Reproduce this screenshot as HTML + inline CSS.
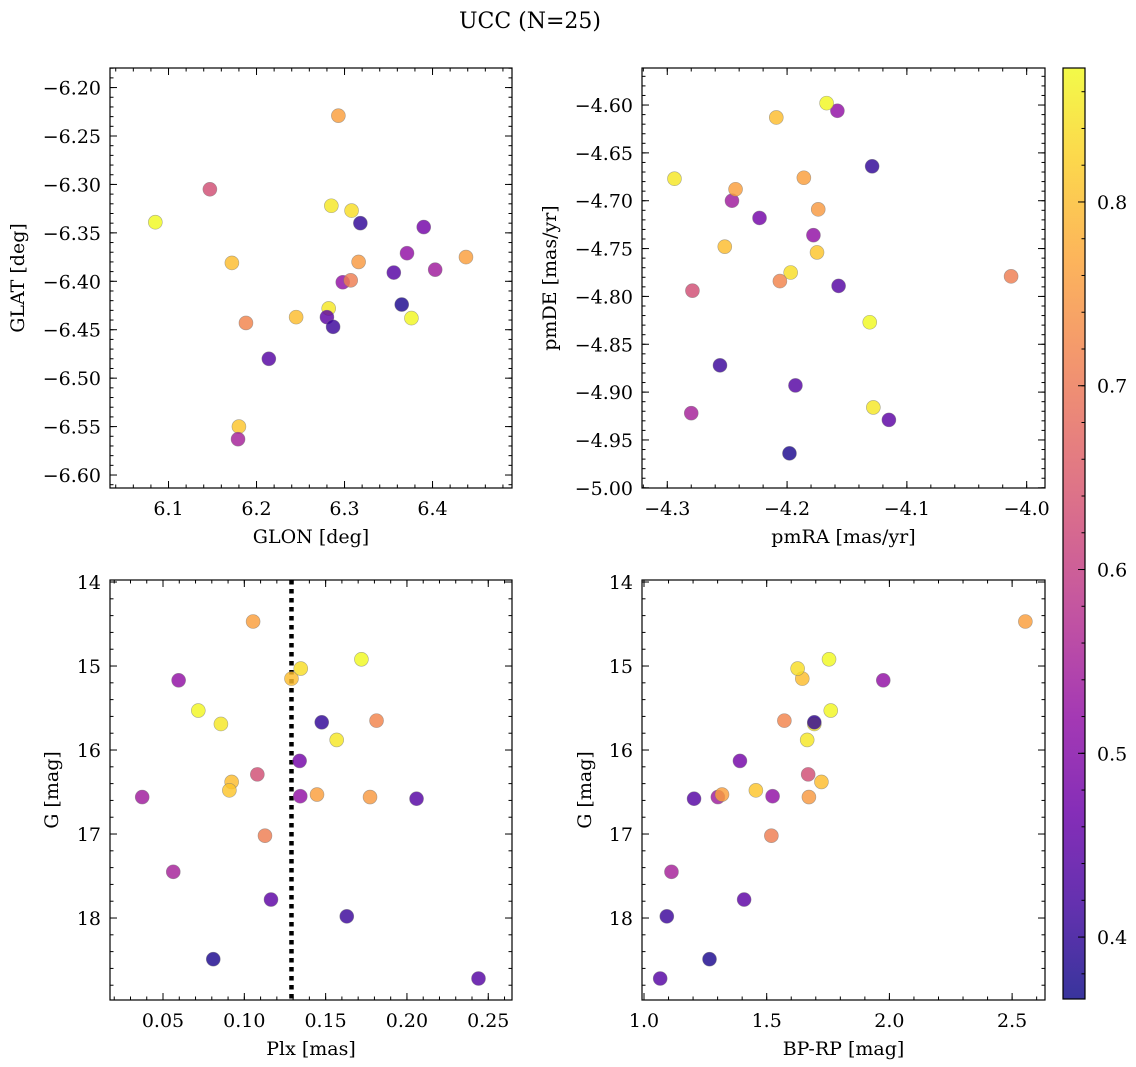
<!DOCTYPE html>
<html><head><meta charset="utf-8"><style>
html,body{margin:0;padding:0;background:#fff;}
svg{display:block;}
text{font-family:"DejaVu Serif","Liberation Serif",serif;fill:#000;}
</style></head><body>
<svg id="fig" width="1136" height="1067" viewBox="0 0 1136 1067" xmlns="http://www.w3.org/2000/svg">
<rect width="1136" height="1067" fill="#fff"/>
<text x="530" y="28" font-size="22" text-anchor="middle">UCC (N=25)</text>
</svg>
<script>
const prob = [0.76,0.52,0.87,0.85,0.80,0.84,0.88,0.40,0.72,0.85,0.48,0.63,0.80,0.81,0.54,0.52,0.76,0.75,0.44,0.71,0.55,0.45,0.41,0.38,0.44];
const glon = [6.293,6.371,6.376,6.285,6.172,6.308,6.085,6.318,6.188,6.282,6.390,6.147,6.245,6.180,6.403,6.298,6.438,6.316,6.356,6.307,6.179,6.280,6.287,6.365,6.214];
const glat = [-6.229,-6.371,-6.438,-6.322,-6.381,-6.327,-6.339,-6.340,-6.443,-6.428,-6.344,-6.305,-6.437,-6.550,-6.388,-6.401,-6.375,-6.380,-6.391,-6.399,-6.563,-6.437,-6.447,-6.424,-6.480];
const pmra = [-4.186,-4.158,-4.167,-4.294,-4.209,-4.197,-4.131,-4.129,-4.206,-4.128,-4.223,-4.279,-4.252,-4.175,-4.246,-4.178,-4.243,-4.174,-4.157,-4.013,-4.280,-4.115,-4.256,-4.198,-4.193];
const pmde = [-4.676,-4.606,-4.598,-4.677,-4.613,-4.775,-4.827,-4.664,-4.784,-4.916,-4.718,-4.794,-4.748,-4.754,-4.700,-4.736,-4.688,-4.709,-4.789,-4.779,-4.922,-4.929,-4.872,-4.964,-4.893];
const plx = [0.1054,0.0596,0.0717,0.0856,0.129,0.1347,0.172,0.1476,0.1813,0.1568,0.134,0.108,0.0922,0.0908,0.0372,0.1344,0.1447,0.1773,0.2059,0.1127,0.0563,0.1164,0.163,0.0809,0.244];
const gmag = [14.47,15.17,15.53,15.69,15.15,15.03,14.92,15.67,15.65,15.88,16.13,16.29,16.38,16.48,16.56,16.55,16.53,16.56,16.58,17.02,17.45,17.78,17.98,18.49,18.72];
const bprp = [2.554,1.975,1.761,1.694,1.645,1.626,1.754,1.694,1.572,1.665,1.391,1.669,1.723,1.456,1.301,1.524,1.318,1.672,1.204,1.519,1.112,1.408,1.093,1.267,1.066];
const plxCut = 0.129;
const cbTicks = [0.4,0.5,0.6,0.7,0.8];

const NS = "http://www.w3.org/2000/svg";
const svg = document.getElementById('fig');
const FS = 19;
function mk(tag, attrs, parent){const e=document.createElementNS(NS,tag);for(const k in attrs)e.setAttribute(k,attrs[k]);(parent||svg).appendChild(e);return e;}
const VMIN=0.3663, VMAX=0.8729;
const stops=[[0,'#0d0887'],[0.1,'#41049d'],[0.2,'#6a00a8'],[0.3,'#8f0da4'],[0.4,'#b12a90'],[0.5,'#cc4778'],[0.6,'#e16462'],[0.7,'#f2844b'],[0.8,'#fca636'],[0.9,'#fcce25'],[1,'#f0f921']];
function hx(c){return [1,3,5].map(i=>parseInt(c.substr(i,2),16));}
function plasma(t){t=Math.max(0,Math.min(1,t));for(let i=0;i<stops.length-1;i++){if(t<=stops[i+1][0]){const f=(t-stops[i][0])/(stops[i+1][0]-stops[i][0]);const a=hx(stops[i][1]),b=hx(stops[i+1][1]);return 'rgb('+a.map((v,j)=>Math.round(v+(b[j]-v)*f)).join(',')+')';}}return stops[10][1];}
function cmap(v){return plasma((v-VMIN)/(VMAX-VMIN));}
function fmt(v,d){const s=Math.abs(v).toFixed(d);return (v< -1e-9?'\u2212':'')+s;}

function panel(cfg){
  const g=mk('g',{});
  
  
  const {x0,x1,y0,y1}=cfg;
  const sx=v=>x0+(v-cfg.xd[0])/(cfg.xd[1]-cfg.xd[0])*(x1-x0);
  const sy=cfg.yinv? (v=>y0+(v-cfg.yd[0])/(cfg.yd[1]-cfg.yd[0])*(y1-y0)) : (v=>y1-(v-cfg.yd[0])/(cfg.yd[1]-cfg.yd[0])*(y1-y0));
  const tg=mk('g',{stroke:'#000','stroke-width':1},g);
  function ticksX(step,len){const s=Math.ceil(cfg.xd[0]/step-1e-6);for(let k=s;k*step<=cfg.xd[1]+1e-9;k++){const X=sx(k*step);mk('line',{x1:X,x2:X,y1:y1,y2:y1-len},tg);mk('line',{x1:X,x2:X,y1:y0,y2:y0+len},tg);}}
  function ticksY(step,len){const lo=Math.min(...cfg.yd),hi=Math.max(...cfg.yd);const s=Math.ceil(lo/step-1e-6);for(let k=s;k*step<=hi+1e-9;k++){const Y=sy(k*step);mk('line',{x1:x0,x2:x0+len,y1:Y,y2:Y},tg);mk('line',{x1:x1,x2:x1-len,y1:Y,y2:Y},tg);}}
  ticksX(cfg.xminor,3.5);ticksX(cfg.xmajor,7);ticksY(cfg.yminor,3.5);ticksY(cfg.ymajor,7);
  cfg.xticks.forEach(v=>{const t=mk('text',{x:sx(v),y:y1+27,'font-size':FS,'text-anchor':'middle'},g);t.textContent=fmt(v,cfg.xdec);
    
    });
  cfg.yticks.forEach(v=>{const t=mk('text',{x:x0-9,y:sy(v)+7,'font-size':FS,'text-anchor':'end'},g);t.textContent=fmt(v,cfg.ydec);
    
    });
  const xl=mk('text',{x:(x0+x1)/2,y:y1+55,'font-size':FS,'text-anchor':'middle'},g);xl.textContent=cfg.xlabel;
  
  
  const yl=mk('text',{x:0,y:0,'font-size':FS,'text-anchor':'middle',transform:`translate(${cfg.ylx},${(y0+y1)/2}) rotate(-90)`},g);yl.textContent=cfg.ylabel;
  
  
  if(cfg.vline!==undefined){const l=mk('line',{x1:sx(cfg.vline),x2:sx(cfg.vline),y1:y0,y2:y1,stroke:'#000','stroke-width':4.5,'stroke-dasharray':'4.5,4.5'},g);
    
    }
  const pg=mk('g',{},g);
  for(let i=0;i<cfg.xs.length;i++){
    const c=mk('circle',{cx:sx(cfg.xs[i]),cy:sy(cfg.ys[i]),r:7,fill:cmap(prob[i]),'fill-opacity':0.82,stroke:'#777','stroke-opacity':0.6,'stroke-width':0.6},pg);
    
    
  }
  mk('rect',{x:x0,y:y0,width:x1-x0,height:y1-y0,fill:'none',stroke:'#000','stroke-width':1.2},g);
}

panel({name:'glon-glat-panel',x0:110,x1:512,y0:68,y1:488,xd:[6.0335,6.4903],yd:[-6.6134,-6.1798],
  xmajor:0.1,xminor:0.02,ymajor:0.05,yminor:0.01,xticks:[6.1,6.2,6.3,6.4],xdec:1,
  yticks:[-6.20,-6.25,-6.30,-6.35,-6.40,-6.45,-6.50,-6.55,-6.60],ydec:2,
  xlabel:'GLON [deg]',ylabel:'GLAT [deg]',ylx:24,xs:glon,ys:glat});
panel({name:'pm-panel',x0:642,x1:1045,y0:68,y1:488,xd:[-4.3211,-3.9847],yd:[-5.0002,-4.5613],
  xmajor:0.1,xminor:0.02,ymajor:0.05,yminor:0.01,xticks:[-4.3,-4.2,-4.1,-4.0],xdec:1,
  yticks:[-4.60,-4.65,-4.70,-4.75,-4.80,-4.85,-4.90,-4.95,-5.00],ydec:2,
  xlabel:'pmRA [mas/yr]',ylabel:'pmDE [mas/yr]',ylx:556,xs:pmra,ys:pmde});
panel({name:'plx-g-panel',x0:110,x1:512,y0:580,y1:1000,xd:[0.0174,0.2646],yd:[13.976,18.976],yinv:true,
  xmajor:0.05,xminor:0.01,ymajor:1,yminor:0.2,xticks:[0.05,0.10,0.15,0.20,0.25],xdec:2,
  yticks:[14,15,16,17,18],ydec:0,xlabel:'Plx [mas]',ylabel:'G [mag]',ylx:58,xs:plx,ys:gmag,vline:plxCut});
panel({name:'cmd-panel',x0:642,x1:1045,y0:580,y1:1000,xd:[0.9919,2.634],yd:[13.976,18.976],yinv:true,
  xmajor:0.5,xminor:0.1,ymajor:1,yminor:0.2,xticks:[1.0,1.5,2.0,2.5],xdec:1,
  yticks:[14,15,16,17,18],ydec:0,xlabel:'BP-RP [mag]',ylabel:'G [mag]',ylx:591,xs:bprp,ys:gmag});

(function(){
  const cx0=1063,cx1=1085,cy0=68,cy1=999;
  const g=mk('g',{});
  
  
  const defs=mk('defs',{},g);
  const grad=mk('linearGradient',{id:'cbg',x1:0,y1:1,x2:0,y2:0},defs);
  for(let i=0;i<=20;i++){mk('stop',{offset:i/20,'stop-color':plasma(i/20),'stop-opacity':0.82},grad);}
  mk('rect',{x:cx0,y:cy0,width:cx1-cx0,height:cy1-cy0,fill:'url(#cbg)'},g);
  const sy=v=>cy1-(v-VMIN)/(VMAX-VMIN)*(cy1-cy0);
  for(let k=Math.ceil(VMIN/0.02);k*0.02<=VMAX;k++){const Y=sy(k*0.02);mk('line',{x1:cx1,x2:cx1-3.5,y1:Y,y2:Y,stroke:'#000'},g);}
  cbTicks.forEach(v=>{const Y=sy(v);mk('line',{x1:cx1,x2:cx1-7,y1:Y,y2:Y,stroke:'#000'},g);
    const t=mk('text',{x:cx1+12,y:Y+7,'font-size':FS},g);t.textContent=v.toFixed(1);
    
    });
  mk('rect',{x:cx0,y:cy0,width:cx1-cx0,height:cy1-cy0,fill:'none',stroke:'#000','stroke-width':1.2},g);
})();
</script>
</body></html>
